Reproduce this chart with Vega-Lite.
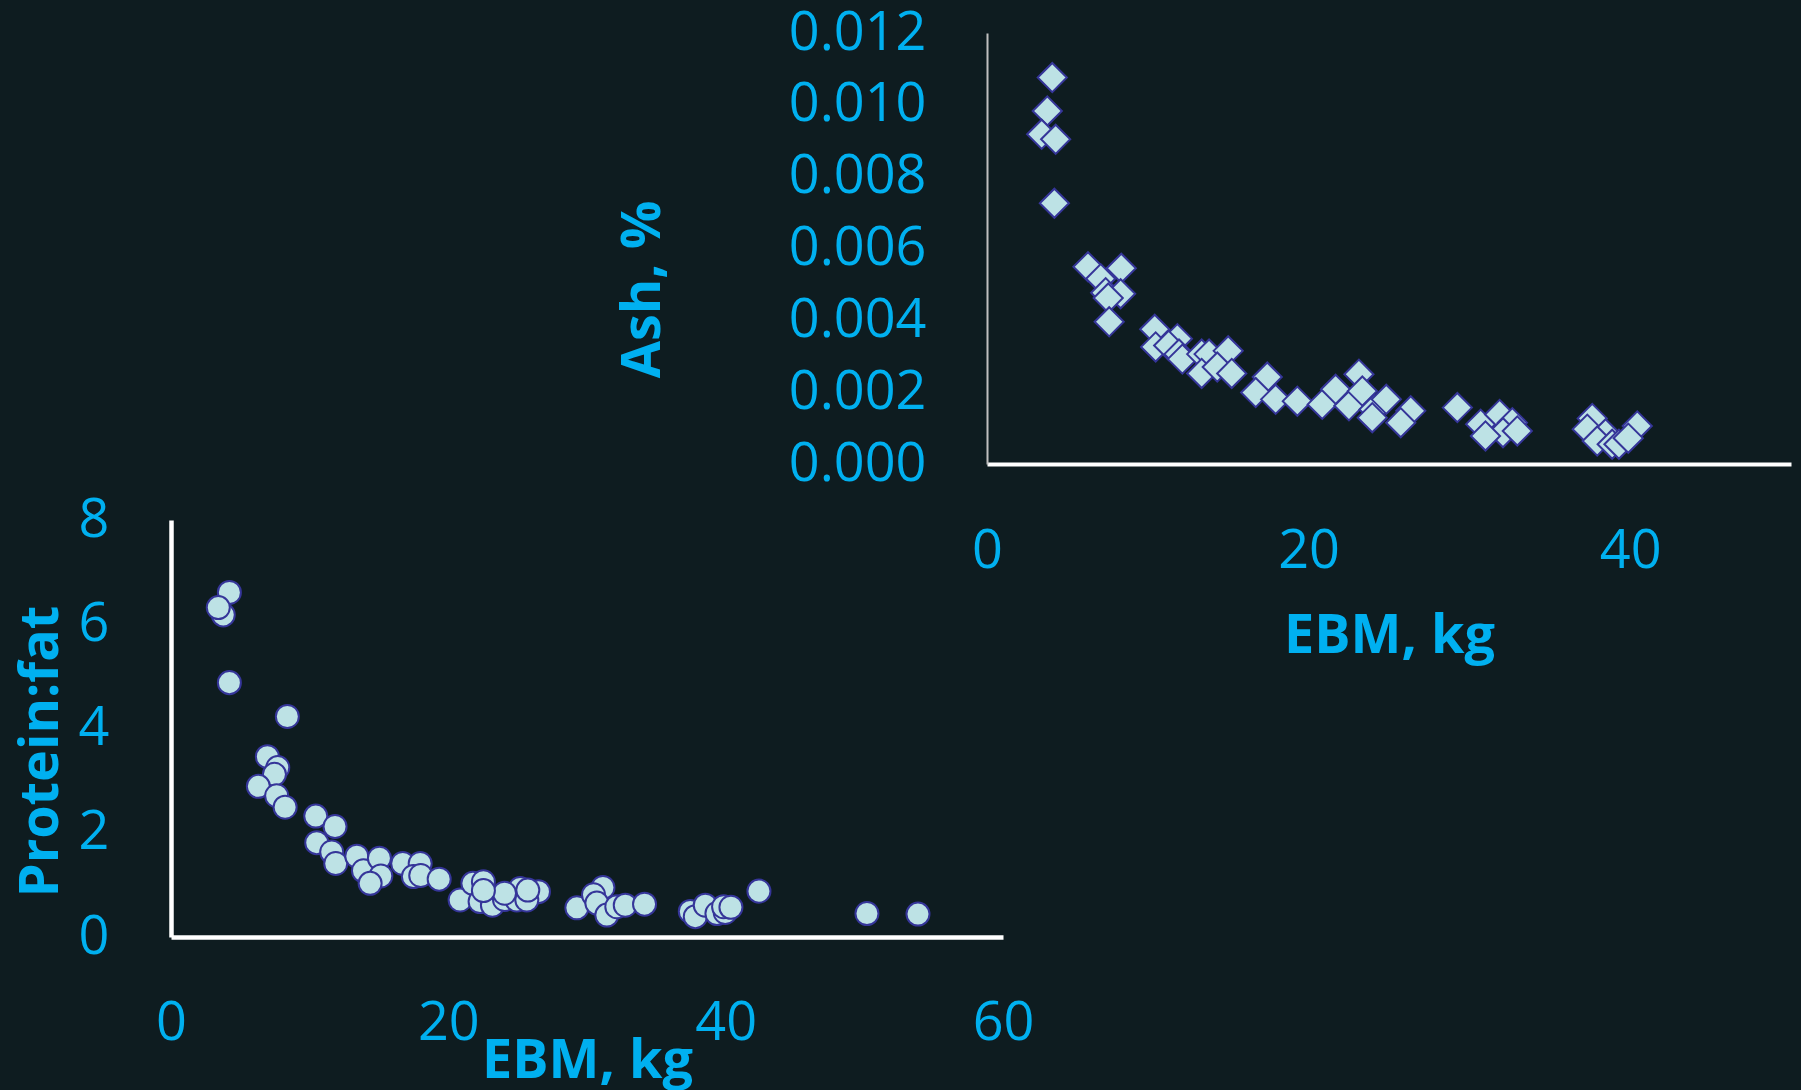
{
  "$schema": "https://vega.github.io/schema/vega-lite/v6.json",
  "width": 1801,
  "height": 1090,
  "padding": 0,
  "autosize": {"type": "none"},
  "background": "#0E1C20",
  "config": {
    "view": {"stroke": null},
    "axis": {
      "grid": false,
      "ticks": false,
      "tickSize": 0,
      "labelFlush": false,
      "labelBound": false,
      "labelFont": "Open Sans",
      "titleFont": "Open Sans",
      "labelColor": "#00B0F0",
      "titleColor": "#00B0F0",
      "labelFontSize": 54,
      "titleFontSize": 54,
      "titleFontWeight": "bold",
      "labelOverlap": false,
      "domainColor": "#FFFFFF",
      "domainWidth": 4
    }
  },
  "datasets": {
    "ash": [
      {"EBM": 4.06, "Ash": 0.01076},
      {"EBM": 3.75, "Ash": 0.00983},
      {"EBM": 3.40, "Ash": 0.00918},
      {"EBM": 4.27, "Ash": 0.00904},
      {"EBM": 4.19, "Ash": 0.00726},
      {"EBM": 6.28, "Ash": 0.00549},
      {"EBM": 8.35, "Ash": 0.00545},
      {"EBM": 7.07, "Ash": 0.00516},
      {"EBM": 7.38, "Ash": 0.00477},
      {"EBM": 8.31, "Ash": 0.00474},
      {"EBM": 7.54, "Ash": 0.00462},
      {"EBM": 7.60, "Ash": 0.00396},
      {"EBM": 10.43, "Ash": 0.00375},
      {"EBM": 10.49, "Ash": 0.00326},
      {"EBM": 11.84, "Ash": 0.00349},
      {"EBM": 11.30, "Ash": 0.00330},
      {"EBM": 11.94, "Ash": 0.00306},
      {"EBM": 12.15, "Ash": 0.00292},
      {"EBM": 13.35, "Ash": 0.00306},
      {"EBM": 13.81, "Ash": 0.00306},
      {"EBM": 15.00, "Ash": 0.00315},
      {"EBM": 13.35, "Ash": 0.00252},
      {"EBM": 14.32, "Ash": 0.00270},
      {"EBM": 15.22, "Ash": 0.00252},
      {"EBM": 17.43, "Ash": 0.00242},
      {"EBM": 16.71, "Ash": 0.00199},
      {"EBM": 17.95, "Ash": 0.00180},
      {"EBM": 19.30, "Ash": 0.00175},
      {"EBM": 20.85, "Ash": 0.00166},
      {"EBM": 21.68, "Ash": 0.00208},
      {"EBM": 22.51, "Ash": 0.00162},
      {"EBM": 23.13, "Ash": 0.00250},
      {"EBM": 23.34, "Ash": 0.00203},
      {"EBM": 24.07, "Ash": 0.00152},
      {"EBM": 23.96, "Ash": 0.00129},
      {"EBM": 24.83, "Ash": 0.00180},
      {"EBM": 26.35, "Ash": 0.00148},
      {"EBM": 25.73, "Ash": 0.00115},
      {"EBM": 29.25, "Ash": 0.00157},
      {"EBM": 30.70, "Ash": 0.00111},
      {"EBM": 31.88, "Ash": 0.00138},
      {"EBM": 32.67, "Ash": 0.00115},
      {"EBM": 32.09, "Ash": 0.00087},
      {"EBM": 31.00, "Ash": 0.00078},
      {"EBM": 32.98, "Ash": 0.00092},
      {"EBM": 37.64, "Ash": 0.00127},
      {"EBM": 37.33, "Ash": 0.00097},
      {"EBM": 38.47, "Ash": 0.00084},
      {"EBM": 37.95, "Ash": 0.00064},
      {"EBM": 38.88, "Ash": 0.00055},
      {"EBM": 39.30, "Ash": 0.00055},
      {"EBM": 40.44, "Ash": 0.00106},
      {"EBM": 39.88, "Ash": 0.00072}
    ],
    "pf": [
      {"EBM": 4.21, "PF": 6.61},
      {"EBM": 3.77, "PF": 6.18},
      {"EBM": 3.41, "PF": 6.32},
      {"EBM": 4.21, "PF": 4.88},
      {"EBM": 8.39, "PF": 4.23},
      {"EBM": 6.95, "PF": 3.46},
      {"EBM": 7.70, "PF": 3.25},
      {"EBM": 7.46, "PF": 3.12},
      {"EBM": 6.30, "PF": 2.89},
      {"EBM": 7.62, "PF": 2.71},
      {"EBM": 8.23, "PF": 2.49},
      {"EBM": 10.44, "PF": 2.32},
      {"EBM": 11.83, "PF": 2.12},
      {"EBM": 10.51, "PF": 1.81},
      {"EBM": 11.59, "PF": 1.63},
      {"EBM": 11.88, "PF": 1.41},
      {"EBM": 13.40, "PF": 1.55},
      {"EBM": 13.88, "PF": 1.27},
      {"EBM": 15.03, "PF": 1.51},
      {"EBM": 15.13, "PF": 1.17},
      {"EBM": 14.36, "PF": 1.03},
      {"EBM": 16.71, "PF": 1.41},
      {"EBM": 17.97, "PF": 1.41},
      {"EBM": 17.48, "PF": 1.16},
      {"EBM": 18.01, "PF": 1.18},
      {"EBM": 19.34, "PF": 1.11},
      {"EBM": 20.85, "PF": 0.71},
      {"EBM": 21.77, "PF": 1.03},
      {"EBM": 22.53, "PF": 1.06},
      {"EBM": 22.29, "PF": 0.68},
      {"EBM": 23.18, "PF": 0.61},
      {"EBM": 24.05, "PF": 0.72},
      {"EBM": 24.94, "PF": 0.71},
      {"EBM": 25.18, "PF": 0.93},
      {"EBM": 26.50, "PF": 0.87},
      {"EBM": 25.66, "PF": 0.71},
      {"EBM": 25.73, "PF": 0.90},
      {"EBM": 24.05, "PF": 0.84},
      {"EBM": 22.53, "PF": 0.89},
      {"EBM": 29.27, "PF": 0.56},
      {"EBM": 31.15, "PF": 0.95},
      {"EBM": 30.47, "PF": 0.81},
      {"EBM": 30.71, "PF": 0.65},
      {"EBM": 31.43, "PF": 0.42},
      {"EBM": 32.15, "PF": 0.58},
      {"EBM": 32.76, "PF": 0.61},
      {"EBM": 34.15, "PF": 0.63},
      {"EBM": 37.45, "PF": 0.49},
      {"EBM": 37.81, "PF": 0.39},
      {"EBM": 38.53, "PF": 0.61},
      {"EBM": 39.37, "PF": 0.45},
      {"EBM": 39.97, "PF": 0.47},
      {"EBM": 39.85, "PF": 0.58},
      {"EBM": 40.38, "PF": 0.57},
      {"EBM": 42.40, "PF": 0.88},
      {"EBM": 50.19, "PF": 0.45},
      {"EBM": 53.87, "PF": 0.44}
    ]
  },
  "layer": [
    {
      "data": {"name": "ash"},
      "mark": {"type": "point", "shape": "diamond", "filled": true, "fill": "#BDE2E5", "stroke": "#353599", "strokeWidth": 2, "size": 850, "opacity": 1},
      "encoding": {
        "x": {
          "field": "EBM", "type": "quantitative",
          "scale": {"domain": [0, 50], "range": [987, 1791], "nice": false, "zero": false},
          "axis": {"orient": "bottom", "offset": -626, "values": [0, 20, 40], "labelPadding": 103, "labelBaseline": "alphabetic", "title": "EBM, kg", "titleY": 188, "titleBaseline": "alphabetic", "domainWidth": 4}
        },
        "y": {
          "field": "Ash", "type": "quantitative",
          "scale": {"domain": [0, 0.012], "range": [464, 33], "nice": false, "zero": false},
          "axis": {"orient": "left", "offset": -987, "values": [0, 0.002, 0.004, 0.006, 0.008, 0.01, 0.012], "format": ".3f", "labelPadding": 61, "title": "Ash, %", "titleX": -328, "titleY": 289, "titleAngle": -90, "titleAlign": "center", "titleBaseline": "alphabetic", "domainColor": "#BFBFBF", "domainWidth": 2}
        }
      }
    },
    {
      "data": {"name": "pf"},
      "mark": {"type": "point", "shape": "circle", "filled": true, "fill": "#BDE2E5", "stroke": "#353599", "strokeWidth": 2, "size": 530, "opacity": 1},
      "encoding": {
        "x": {
          "field": "EBM", "type": "quantitative",
          "scale": {"domain": [0, 60], "range": [171, 1003], "nice": false, "zero": false},
          "axis": {"orient": "bottom", "offset": -153, "values": [0, 20, 40, 60], "labelPadding": 102, "labelBaseline": "alphabetic", "title": "EBM, kg", "titleY": 140, "titleBaseline": "alphabetic", "domainWidth": 4.5}
        },
        "y": {
          "field": "PF", "type": "quantitative",
          "scale": {"domain": [0, 8], "range": [937, 520], "nice": false, "zero": false},
          "axis": {"orient": "left", "offset": -171, "values": [0, 2, 4, 6, 8], "labelPadding": 62, "title": "Protein:fat", "titleX": -114, "titleY": 751, "titleAngle": -90, "titleAlign": "center", "titleBaseline": "alphabetic", "domainWidth": 4.5}
        }
      }
    }
  ],
  "resolve": {
    "scale": {"x": "independent", "y": "independent"},
    "axis": {"x": "independent", "y": "independent"}
  }
}
